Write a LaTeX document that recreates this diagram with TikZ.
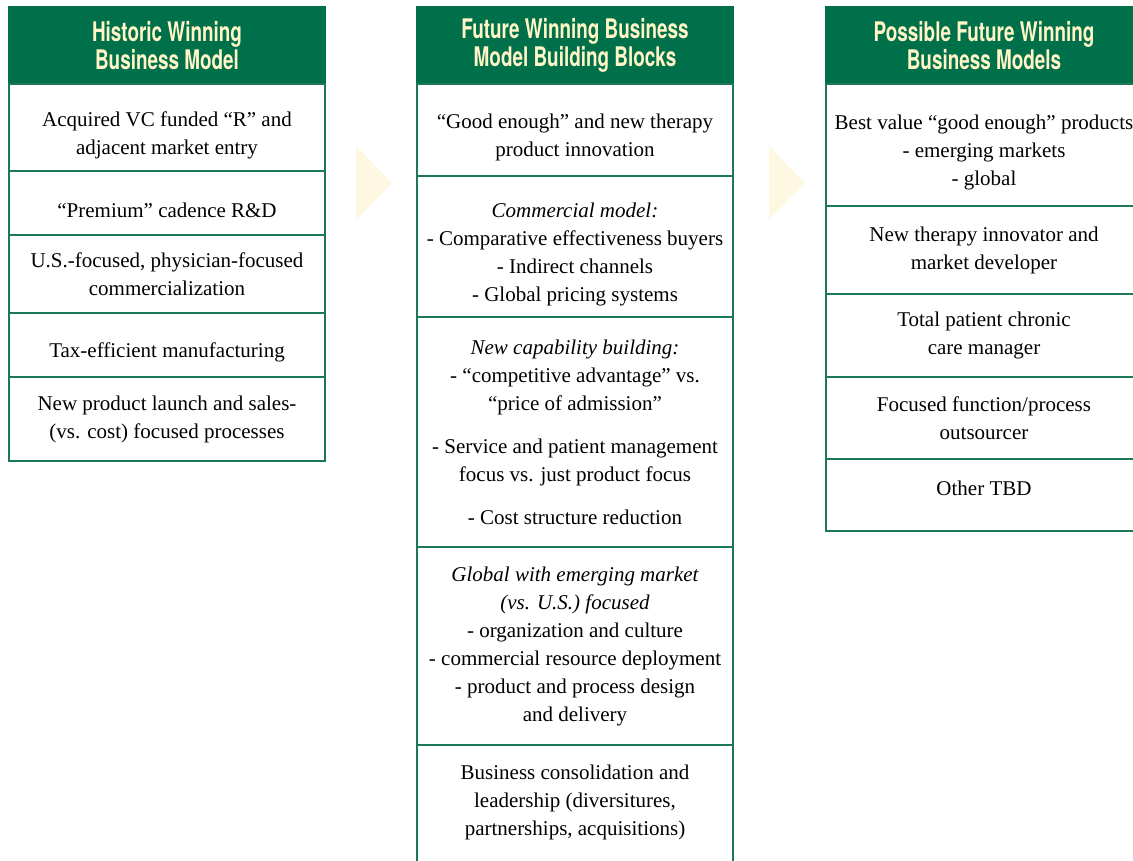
\documentclass[tikz,border=0pt]{standalone}
\usepackage{fontspec}
\setmainfont{Liberation Serif}
\newfontfamily\headfont[FakeStretch=0.7]{TeX Gyre Heros}
\usepackage{tikz}
\usetikzlibrary{positioning}

\definecolor{hdgreen}{HTML}{00704A}
\definecolor{rulegreen}{HTML}{1B7A55}
\definecolor{hdcream}{HTML}{FFF5C6}
\definecolor{chevcream}{HTML}{FEF8E2}

% taller first line, pushes the cell text a little down
\newcommand{\cellstrut}{\rule{0pt}{30pt}}

\begin{document}
\begin{tikzpicture}[
    x=1pt, y=-1pt,
    node distance=0pt,
    header/.style={rectangle, fill=hdgreen, draw=hdgreen, line width=2.4pt, outer sep=0pt, minimum width=316pt, minimum height=77pt, text=hdcream, align=center, font=\headfont\bfseries\fontsize{27}{28}\selectfont},
    cell/.style={rectangle, draw=rulegreen, line width=2.4pt, outer sep=0pt, minimum width=316pt, inner sep=2pt, align=center, font=\fontsize{21}{28}\selectfont},
    celltext/.style={align=center, inner sep=0pt, font=\fontsize{21}{28}\selectfont},
    chevron/.style={fill=chevcream}
]
\useasboundingbox (0,0) rectangle (1133,860);
\clip (0,0) rectangle (1133,860);

% Historic model
\node[header, anchor=north west] (hist) at (9,7) {Historic Winning\\Business Model};
\node[cell, minimum height=87pt, below=of hist] (hist1) {\cellstrut Acquired VC funded “R” and\\adjacent market entry};
\node[cell, minimum height=64pt, below=of hist1] (hist2) {\cellstrut “Premium” cadence R\&D};
\node[cell, minimum height=78pt, below=of hist2] (hist3) {U.S.-focused, physician-focused\\commercialization};
\node[cell, minimum height=64pt, below=of hist3] (hist4) {\cellstrut Tax-efficient manufacturing};
\node[cell, minimum height=84pt, below=of hist4] (hist5) {New product launch and sales-\\(vs. cost) focused processes};

% Building blocks
\node[header, anchor=north west] (blocks) at (417,7) {Future Winning Business\\Model Building Blocks};
\node[cell, minimum height=92pt, below=of blocks] (blocks1) {\cellstrut “Good enough” and new therapy\\product innovation};
\node[cell, minimum height=141pt, below=of blocks1] (blocks2) {\cellstrut{\itshape Commercial model:}\\- Comparative effectiveness buyers\\- Indirect channels\\- Global pricing systems};
\node[cell, minimum height=230pt, below=of blocks2] (blocks3) {{\itshape New capability building:}\\- “competitive advantage” vs.\\“price of admission”\\[15pt]- Service and patient management\\focus vs. just product focus\\[15pt]- Cost structure reduction};
\node[cell, minimum height=198pt, below=of blocks3] (blocks4) {{\itshape Global with emerging market}\\{\itshape (vs. U.S.) focused}\\- organization and culture\\- commercial resource deployment\\- product and process design\\and delivery};
\node[cell, minimum height=140pt, below=of blocks4] (blocks5) {};
\node[celltext] (blocks5txt) at ([yshift=-57pt]blocks4.south) {Business consolidation and\\leadership (diversitures,\\partnerships, acquisitions)};

% Future models
\node[header, anchor=north west] (models) at (826,7) {Possible Future Winning\\Business Models};
\node[cell, minimum height=122pt, below=of models] (models1) {\cellstrut Best value “good enough” products\\- emerging markets\\- global};
\node[cell, minimum height=88pt, below=of models1] (models2) {New therapy innovator and\\market developer};
\node[cell, minimum height=83pt, below=of models2] (models3) {Total patient chronic\\care manager};
\node[cell, minimum height=82pt, below=of models3] (models4) {Focused function/process\\outsourcer};
\node[cell, minimum height=72pt, text depth=14pt, below=of models4] (models5) {Other TBD};

% Chevrons
\fill[chevron] (356,146) -- (392,183) -- (356,220) -- cycle;
\fill[chevron] (769,146) -- (805,183) -- (769,220) -- cycle;
\end{tikzpicture}
\end{document}
